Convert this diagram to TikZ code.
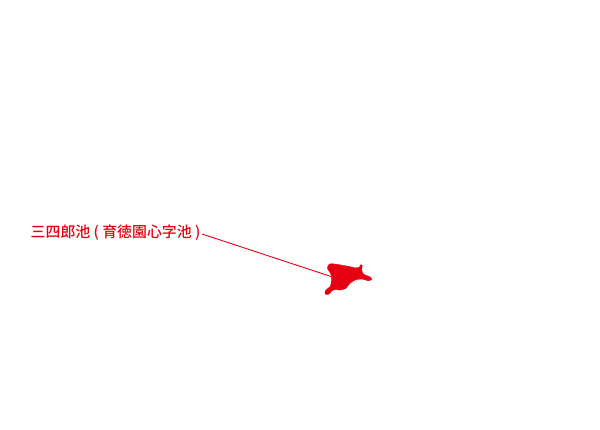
\documentclass[tikz,border=0pt]{standalone}
\usepackage{fontspec}
\newfontfamily\cjk[BoldFont={Noto Sans CJK JP Medium}]{Noto Sans CJK JP}
\definecolor{pondred}{RGB}{230,0,18}
\tikzset{
  pondlabel/.style={inner sep=0pt,anchor=west,text=pondred,font=\cjk\bfseries\fontsize{14.9}{15}\selectfont},
  leader/.style={draw=pondred,line width=0.9pt},
  pondshape/.style={fill=pondred,draw=pondred,line width=0.4pt}
}
\begin{document}
\begin{tikzpicture}[x=1pt,y=-1pt]
\useasboundingbox (0,0) rectangle (600,430);
\node[pondlabel] (label) at (30.5,232.5) {三四郎池 ( 育徳園心字池 )};
\coordinate (labelend) at (202,234);
\coordinate (pond) at (331,276.5);
\draw[leader] (labelend) -- (pond);
\fill[pondshape] plot[smooth cycle,tension=0.35] coordinates {
 (328.3,265.3) (331,263.7) (336.7,264.3) (343.3,265.5) (348.3,266.3) (355,267.8) (359.3,267.3) (360.7,264.7) (362.3,265.3)
 (361.7,269.7) (363.3,274) (370,277) (371.7,279.5) (368.3,280.7) (361.7,279) (355,280) (350,283.3)
 (345.5,288.5) (340,290) (336,289.5) (332.7,290.3) (328.3,294.3) (325,293.9) (325.7,290.3) (330.3,286.3) (331.7,279.7) (330.7,273.5) (327.5,268.7)
};
\end{tikzpicture}
\end{document}
